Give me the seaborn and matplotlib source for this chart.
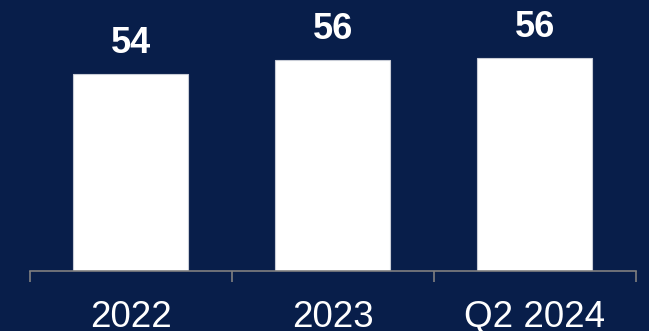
import matplotlib
matplotlib.use("Agg")
import matplotlib.pyplot as plt
import seaborn as sns
import pandas as pd
import numpy as np

categories = ["2022", "2023", "Q2 2024"]
values = [54.0, 56.0, 56.3]
value_labels = ["54", "56", "56"]

BG = "#081E4A"
sns.set_theme(style="white")
plt.rcParams["font.family"] = ["Liberation Sans", "DejaVu Sans"]

fig = plt.figure(figsize=(6.49, 3.31), dpi=100, facecolor=BG)
ax = fig.add_axes([29.7 / 649, (331 - 271) / 331, (635.7 - 29.7) / 649, 271 / 331])
ax.set_facecolor(BG)

df = pd.DataFrame({"cat": categories, "val": values})
sns.barplot(data=df, x="cat", y="val", color="white", width=0.57,
            edgecolor="#C8CCD6", linewidth=0.8, saturation=1, ax=ax)

ax.set_ylim(25.9, 25.9 + 271 / 7)
ax.set_xlim(-0.5, 2.5)

for c in ax.containers:
    ax.bar_label(c, labels=value_labels, padding=9.7, color="white",
                 fontsize=26, fontweight="bold")

for s in ["top", "left", "right"]:
    ax.spines[s].set_visible(False)
ax.spines["bottom"].set_color("#7F7F7F")
ax.spines["bottom"].set_linewidth(1.2)

ax.set_yticks([])
ax.set_xlabel("")
ax.set_ylabel("")
ax.set_xticks(range(len(categories)))
ax.set_xticklabels(categories)
ax.set_xticks([-0.5, 0.5, 1.5, 2.5], minor=True)
ax.tick_params(axis="x", which="major", length=0, pad=21, labelsize=26.5, labelcolor="white")
ax.tick_params(axis="x", which="minor", bottom=True, length=8, width=1.2, color="#7F7F7F")

fig.savefig("out.png", dpi=100, facecolor=BG)
